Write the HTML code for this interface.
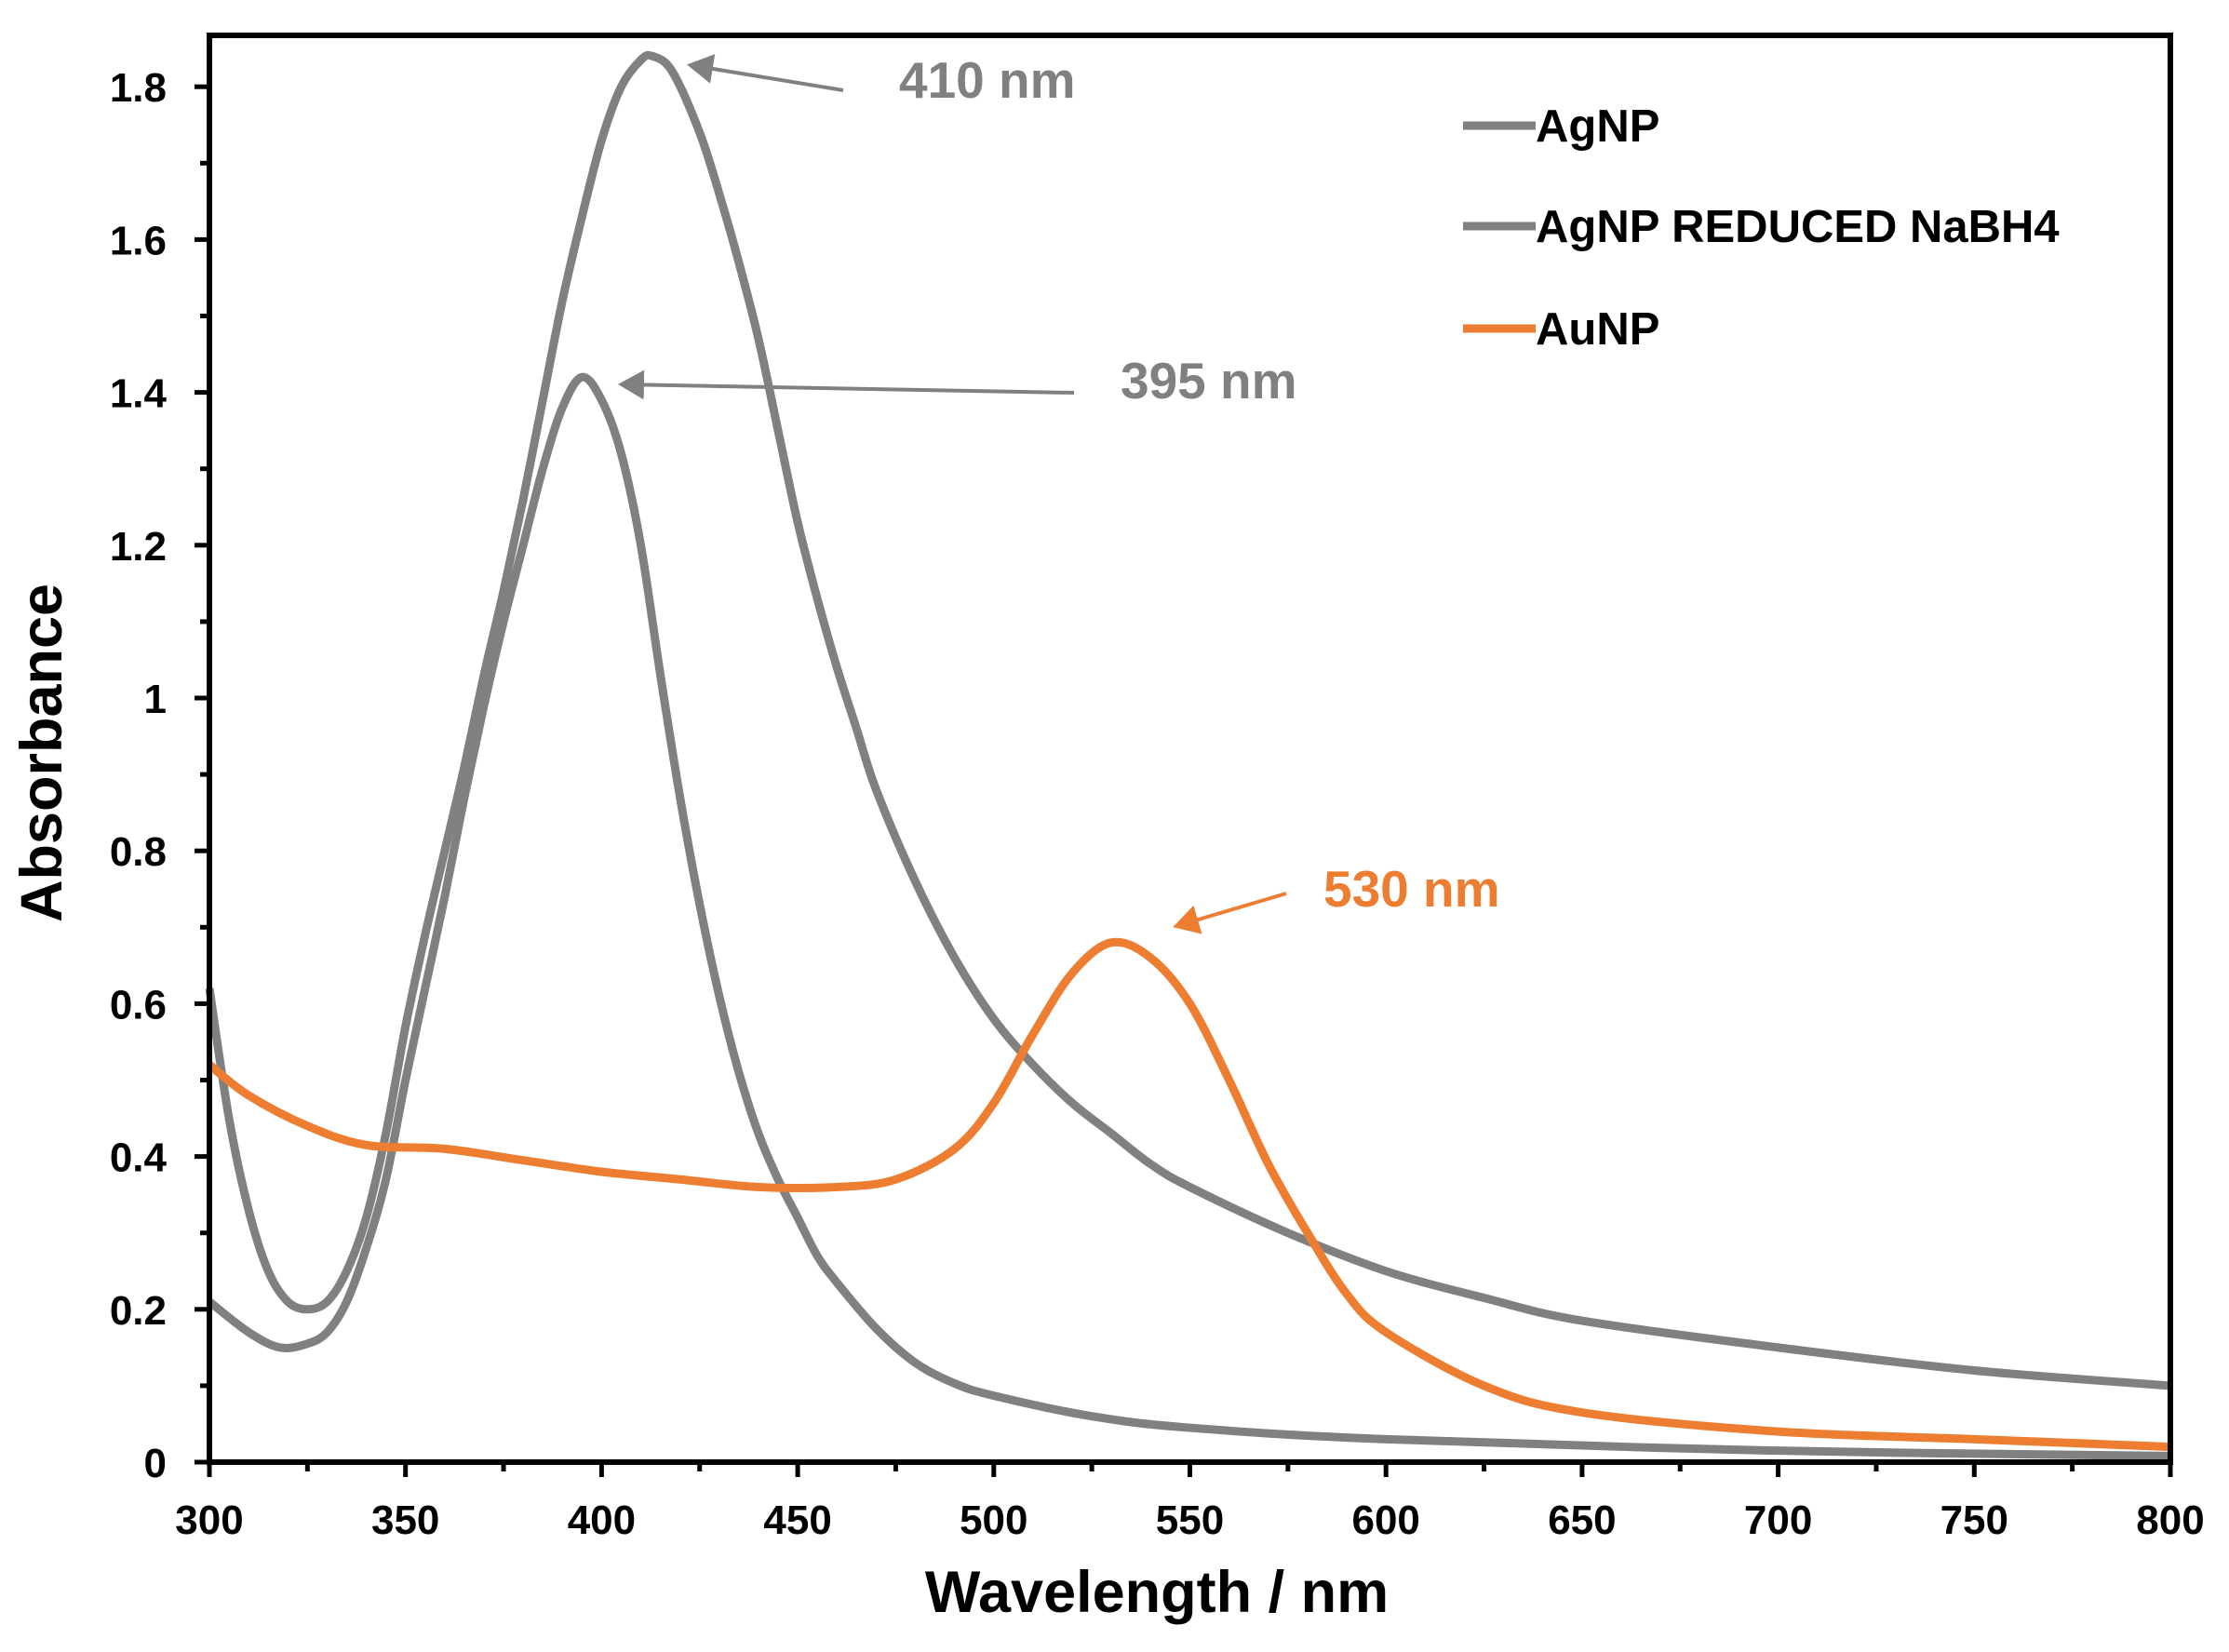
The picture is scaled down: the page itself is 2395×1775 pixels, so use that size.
<!DOCTYPE html>
<html><head><meta charset="utf-8"><style>
html,body{margin:0;padding:0;background:#fff;}
svg{display:block;font-family:"Liberation Sans",Arial,sans-serif;font-weight:bold;}
</style></head><body>
<svg id="chart" width="2395" height="1775" viewBox="0 0 2395 1775" xmlns="http://www.w3.org/2000/svg">
<defs>
<marker id="ag" markerWidth="8" markerHeight="8" refX="6" refY="4" orient="auto" markerUnits="strokeWidth"><path d="M0,0 L7,4 L0,8 Z" fill="#808080"/></marker>
<marker id="ao" markerWidth="8" markerHeight="8" refX="6" refY="4" orient="auto" markerUnits="strokeWidth"><path d="M0,0 L7,4 L0,8 Z" fill="#ED7D31"/></marker>
</defs>
<g id="series"></g>
<rect x="225" y="38" width="2107" height="1533" fill="none" stroke="#000" stroke-width="6"/>
<g id="ticks"></g>
<text transform="translate(66,809) rotate(-90)" text-anchor="middle" font-size="63">Absorbance</text>
<text x="1243" y="1732" text-anchor="middle" font-size="63">Wavelength / nm</text>
<g font-size="49">
<line x1="1572" y1="135" x2="1650" y2="135" stroke="#808080" stroke-width="9"/>
<text x="1650" y="152">AgNP</text>
<line x1="1572" y1="243" x2="1650" y2="243" stroke="#808080" stroke-width="9"/>
<text x="1650" y="260">AgNP REDUCED NaBH4</text>
<line x1="1572" y1="353" x2="1650" y2="353" stroke="#ED7D31" stroke-width="9"/>
<text x="1650" y="370">AuNP</text>
</g>
<g font-size="55">
<line x1="906" y1="97" x2="742" y2="70" stroke="#808080" stroke-width="4" marker-end="url(#ag)"/>
<text x="966" y="105" fill="#808080">410 nm</text>
<line x1="1154" y1="422" x2="668" y2="413" stroke="#808080" stroke-width="4" marker-end="url(#ag)"/>
<text x="1204" y="428" fill="#808080">395 nm</text>
<line x1="1382" y1="960" x2="1264" y2="995" stroke="#ED7D31" stroke-width="4" marker-end="url(#ao)"/>
<text x="1422" y="974" fill="#ED7D31">530 nm</text>
</g>
</svg>
<script>
const agX=[300,305,310,315,320,325,330,335,340,345,350,355,360,365,370,375,380,385,390,395,400,405,410,413,418,425,430,435,440,445,450,455,460,465,470,480,490,500,510,520,530,540,550,575,600,625,650,700,750,800];
const agY=[0.62,0.45,0.33,0.25,0.21,0.2,0.21,0.25,0.32,0.43,0.57,0.69,0.8,0.91,1.03,1.14,1.26,1.39,1.52,1.63,1.73,1.8,1.835,1.84,1.82,1.74,1.66,1.57,1.47,1.35,1.23,1.13,1.04,0.96,0.88,0.76,0.66,0.58,0.52,0.47,0.43,0.39,0.36,0.3,0.25,0.215,0.185,0.15,0.12,0.1];
const redX=[300,310,318,325,330,335,340,345,350,355,360,365,370,375,380,385,390,395,400,405,410,415,420,425,430,435,440,445,450,455,460,470,480,490,500,525,550,600,700,800];
const redY=[0.21,0.17,0.15,0.155,0.17,0.21,0.28,0.37,0.5,0.62,0.74,0.87,0.99,1.1,1.2,1.3,1.38,1.42,1.39,1.32,1.2,1.03,0.87,0.73,0.61,0.51,0.43,0.37,0.32,0.27,0.235,0.175,0.13,0.103,0.087,0.06,0.045,0.03,0.015,0.008];
const auX=[300,310,325,340,360,380,400,420,440,460,475,490,500,510,520,530,540,550,560,570,580,590,600,625,650,700,750,800];
const auY=[0.52,0.48,0.44,0.415,0.41,0.395,0.38,0.37,0.36,0.36,0.37,0.41,0.47,0.56,0.64,0.68,0.66,0.6,0.5,0.39,0.3,0.22,0.17,0.1,0.065,0.04,0.03,0.02];
const xTicks=[300,350,400,450,500,550,600,650,700,750,800];
const yTicks=[0,0.2,0.4,0.6,0.8,1,1.2,1.4,1.6,1.8];
const yTickLabels=["0","0.2","0.4","0.6","0.8","1","1.2","1.4","1.6","1.8"];

const NS="http://www.w3.org/2000/svg";
function sx(v){return 225+(v-300)*(2107/500);}
function sy(v){return 1571-v*(164.2/0.2);}
function pathFor(xs,ys){
  const p=xs.map((x,i)=>[sx(x),sy(ys[i])]);
  let d="M"+p[0][0]+","+p[0][1];
  for(let i=0;i<p.length-1;i++){
    const p0=p[Math.max(i-1,0)],p1=p[i],p2=p[i+1],p3=p[Math.min(i+2,p.length-1)];
    const c1=[p1[0]+(p2[0]-p0[0])/6,p1[1]+(p2[1]-p0[1])/6];
    const c2=[p2[0]-(p3[0]-p1[0])/6,p2[1]-(p3[1]-p1[1])/6];
    d+=" C"+c1[0]+","+c1[1]+" "+c2[0]+","+c2[1]+" "+p2[0]+","+p2[1];
  }
  return d;
}
const g=document.getElementById("series");
function addLine(xs,ys,color,name){
  const el=document.createElementNS(NS,"path");
  el.setAttribute("d",pathFor(xs,ys));
  el.setAttribute("fill","none");el.setAttribute("stroke",color);el.setAttribute("stroke-width","9");
  el.setAttribute("stroke-linejoin","round");
  
  
  g.appendChild(el);
}
addLine(agX,agY,"#808080","series-agnp");
addLine(redX,redY,"#808080","series-agnp-reduced");
addLine(auX,auY,"#ED7D31","series-aunp");

const t=document.getElementById("ticks");
function ln(x1,y1,x2,y2){const l=document.createElementNS(NS,"line");l.setAttribute("x1",x1);l.setAttribute("y1",y1);l.setAttribute("x2",x2);l.setAttribute("y2",y2);l.setAttribute("stroke","#000");l.setAttribute("stroke-width","5");


t.appendChild(l);}
for(let v=300;v<=800;v+=25){const major=v%50===0;ln(sx(v),1571,sx(v),1571+(major?16:10));}
for(let k=0;k<=18;k++){const v=k*0.1;const major=k%2===0;ln(225-(major?16:10),sy(v),225,sy(v));}
xTicks.forEach(v=>{const tx=document.createElementNS(NS,"text");tx.setAttribute("x",sx(v));tx.setAttribute("y",1648);tx.setAttribute("text-anchor","middle");tx.setAttribute("font-size","44");tx.textContent=String(v);


t.appendChild(tx);});
yTicks.forEach((v,i)=>{const tx=document.createElementNS(NS,"text");tx.setAttribute("x",179);tx.setAttribute("y",sy(v)+16);tx.setAttribute("text-anchor","end");tx.setAttribute("font-size","44");tx.textContent=yTickLabels[i];


t.appendChild(tx);});
</script>
</body></html>
